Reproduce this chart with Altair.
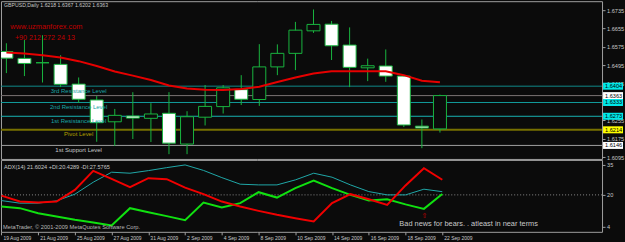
import altair as alt
import pandas as pd

# ---------------- data ----------------
dates = ["19 Aug 2009", "20 Aug 2009", "21 Aug 2009", "24 Aug 2009", "25 Aug 2009",
         "26 Aug 2009", "27 Aug 2009", "28 Aug 2009", "31 Aug 2009", "1 Sep 2009",
         "2 Sep 2009", "3 Sep 2009", "4 Sep 2009", "7 Sep 2009", "8 Sep 2009",
         "9 Sep 2009", "10 Sep 2009", "11 Sep 2009", "14 Sep 2009", "15 Sep 2009",
         "16 Sep 2009", "17 Sep 2009", "18 Sep 2009", "21 Sep 2009", "22 Sep 2009"]
opens = [1.6555, 1.6525, 1.6506, 1.6499, 1.6413, 1.6344, 1.6249, 1.6274, 1.6264, 1.6286,
         1.6152, 1.6269, 1.6315, 1.6389, 1.6346, 1.6488, 1.6547, 1.6645, 1.6674, 1.6583,
         1.6484, 1.6492, 1.6448, 1.6230, 1.6218]
highs = [1.6591, 1.6605, 1.6626, 1.6539, 1.6442, 1.6361, 1.6305, 1.6378, 1.6330, 1.6378,
         1.6295, 1.6409, 1.6409, 1.6452, 1.6587, 1.6586, 1.6684, 1.6738, 1.6688, 1.6660,
         1.6524, 1.6564, 1.6450, 1.6259, 1.6367]
lows = [1.6461, 1.6448, 1.6420, 1.6400, 1.6331, 1.6162, 1.6144, 1.6174, 1.6161, 1.6108,
        1.6108, 1.6233, 1.6285, 1.6322, 1.6318, 1.6452, 1.6474, 1.6636, 1.6518, 1.6400,
        1.6426, 1.6423, 1.6226, 1.6134, 1.6202]
closes = [1.6526, 1.6503, 1.6506, 1.6412, 1.6347, 1.6245, 1.6277, 1.6265, 1.6283, 1.6156,
          1.6271, 1.6316, 1.6397, 1.6347, 1.6488, 1.6547, 1.6648, 1.6673, 1.6580, 1.6486,
          1.6493, 1.6448, 1.6235, 1.6222, 1.6363]
ma_values = [1.6551, 1.6546, 1.6539, 1.6529, 1.6513, 1.6492, 1.6468, 1.6450, 1.6431, 1.6407,
             1.6394, 1.6389, 1.6387, 1.6392, 1.6402, 1.6422, 1.6442, 1.6459, 1.6469, 1.6469,
             1.6469, 1.6469, 1.6452, 1.6428, 1.6421]
adx_main = [17.15, 15.85, 15.85, 17.0, 20.35, 26.35, 31.35, 30.85, 32.15, 33.65,
            35.0, 32.25, 28.65, 25.35, 25.0, 25.0, 27.5, 30.85, 28.85, 25.0,
            21.65, 20.0, 20.0, 22.85, 21.6024]
plus_di = [14.15, 13.35, 10.85, 9.15, 7.5, 6.15, 4.65, 13.35, 11.35, 9.35,
           7.35, 16.15, 13.65, 15.85, 21.35, 18.65, 23.35, 27.15, 23.35, 20.0,
           17.15, 17.85, 15.25, 13.0, 20.4289]
minus_di = [19.65, 16.65, 16.15, 16.65, 22.5, 32.0, 28.0, 23.85, 28.35, 27.85,
            23.65, 20.35, 16.65, 14.15, 12.0, 10.0, 8.35, 6.65, 15.85, 20.35,
            17.85, 15.0, 24.75, 33.35, 27.5765]

# 1.6335 is fully hidden under the price tags in the reference, so it is not listed
price_ticks = [1.6095, 1.6175, 1.6255, 1.6415, 1.6495, 1.6575, 1.6655, 1.6735]
adx_ticks = [4, 20, 35]
date_ticks = list(range(0, len(dates), 2))
adx_level = [20]

level_names = ["3rd Resistance Level", "2nd Resistance Level", "1st Resistance Level",
               "Pivot Level", "1st Support Level"]
level_prices = [1.6404, 1.6333, 1.6273, 1.6214, 1.6146]
level_anchor = [4, 4, 4, 4, 4]
bid_price = [closes[-1]]

symbol = "GBPUSD,Daily"
watermark = ["www.uzmanforex.com", "+90 212 272 24 13"]
copyright_text = "MetaTrader, \u00a9 2001-2009 MetaQuotes Software Corp."
comment_text = "Bad news for bears. . atleast in near terms"

# ---------------- style ----------------
BG = "#0b0b0b"
GREEN = "#19b53f"
FONT = "Liberation Sans"
LBL = "#c8c8c8"
level_colors = ["#108a8a", "#129c9c", "#18b4b4", "#777000", "#a0a0a0"]
level_widths = [1, 1, 1, 2, 1]
level_text_colors = ["#1aa5a5", "#1aa5a5", "#1aa5a5", "#b0a000", "#c8c8c8"]
tag_colors = ["#00e8e8", "#ffffff", "#00e8e8", "#00e8e8", "#ffff00", "#ffffff"]

n = len(dates)
idx = list(range(n))
candles = pd.DataFrame({"i": idx, "date": dates, "open": opens, "high": highs,
                        "low": lows, "close": closes, "ma": ma_values})
candles["lo"] = candles[["open", "close"]].min(axis=1)
candles["hi"] = candles[["open", "close"]].max(axis=1)
candles["fill"] = ["#ffffff" if c < o else BG for o, c in zip(opens, closes)]

levels = pd.DataFrame({"name": level_names, "price": level_prices, "anchor": level_anchor,
                       "color": level_colors, "w": level_widths, "tcolor": level_text_colors})
tag_prices = [level_prices[0], bid_price[0]] + level_prices[1:]
tags = pd.DataFrame({"price": tag_prices, "fill": tag_colors,
                     "label": [f"{p:.4f}" for p in tag_prices]})

xs = alt.Scale(domain=[-0.022, 32.696], nice=False, zero=False)
ys = alt.Scale(domain=[1.60872, 1.67741], nice=False, zero=False)
adx_scale = alt.Scale(domain=[1.5, 37.5], nice=False, zero=False)

W, H1, H2 = 602, 158, 72

price_axis = alt.Axis(orient="right", values=price_ticks, format=".4f", title=None,
                      labelFlush=False, labelOverlap=False)
adx_axis = alt.Axis(orient="right", values=adx_ticks, format="d", title=None,
                    labelFlush=False, labelOverlap=False)
label_expr = "[" + ",".join("'" + d + "'" for d in dates) + "][datum.value]"
date_axis = alt.Axis(values=date_ticks, labelExpr=label_expr, title=None, labelAlign="left",
                     labelBaseline="top", labelFlush=False, labelOverlap=False,
                     labelOffset=1.5, labelPadding=0.8, labelFontSize=5.0)


def PY(field):
    return alt.Y(field, scale=ys, axis=price_axis)


def AY(field):
    return alt.Y(field, scale=adx_scale, axis=adx_axis)


Xn = alt.X("i:Q", scale=xs, axis=None)
Xd = alt.X("i:Q", scale=xs, axis=date_axis)

# ---------------- main panel ----------------
base = alt.Chart(candles)
level_rules = alt.Chart(levels).mark_rule(clip=True).encode(
    y=PY("price:Q"),
    color=alt.Color("color:N", scale=None),
    strokeWidth=alt.StrokeWidth("w:Q", scale=None))
bid_rule = alt.Chart(pd.DataFrame({"price": bid_price})).mark_rule(
    color="#7b7373", strokeWidth=1, clip=True).encode(y=PY("price:Q"))
wicks = base.mark_rule(color=GREEN, strokeWidth=1, clip=True).encode(
    x=Xn, y=PY("low:Q"), y2="high:Q")
bodies = base.mark_bar(size=13, stroke=GREEN, strokeWidth=1, clip=True).encode(
    x=Xn, y=PY("lo:Q"), y2="hi:Q", fill=alt.Fill("fill:N", scale=None))
ma_line = base.mark_line(color="#e60000", strokeWidth=2, clip=True).encode(
    x=Xn, y=PY("ma:Q"))
level_text = alt.Chart(levels).mark_text(align="center", baseline="top", dy=1.5,
                                         fontSize=6, font=FONT).encode(
    x=alt.X("anchor:Q", scale=xs, axis=None), y=PY("price:Q"),
    text="name:N", color=alt.Color("tcolor:N", scale=None))
tag_rect = alt.Chart(tags).mark_rect(yOffset=-3.5, y2Offset=3.5).encode(
    x=alt.value(603), x2=alt.value(623),
    y=PY("price:Q"), y2="price:Q",
    fill=alt.Fill("fill:N", scale=None))
tag_text = alt.Chart(tags).mark_text(align="left", baseline="middle", fontSize=5.6,
                                     font=FONT, color="#000000").encode(
    x=alt.value(605), y=PY("price:Q"), text="label:N")

title_str = f"{symbol}  {opens[-1]:.4f} {highs[-1]:.4f} {lows[-1]:.4f} {closes[-1]:.4f}"
title_txt = alt.Chart(pd.DataFrame({"t": [title_str]})).mark_text(
    align="left", baseline="middle", fontSize=5.2, font=FONT, color=LBL).encode(
    x=alt.value(3), y=alt.value(4), text="t:N")
wm1 = alt.Chart(pd.DataFrame({"t": [watermark[0]]})).mark_text(
    align="center", baseline="middle", fontSize=7.4, font=FONT, color="#c00000").encode(
    x=alt.value(45.5), y=alt.value(25.7), text="t:N")
wm2 = alt.Chart(pd.DataFrame({"t": [watermark[1]]})).mark_text(
    align="center", baseline="middle", fontSize=7.2, font=FONT, color="#c00000").encode(
    x=alt.value(44), y=alt.value(37.3), text="t:N")

main = alt.layer(level_rules, bid_rule, wicks, bodies, ma_line, level_text,
                 tag_rect, tag_text, title_txt, wm1, wm2).properties(width=W, height=H1)

# ---------------- ADX panel ----------------
adx_df = pd.DataFrame({"i": idx, "adx": adx_main, "pdi": plus_di, "mdi": minus_di})
adx_base = alt.Chart(adx_df)
lvl20 = alt.Chart(pd.DataFrame({"v": adx_level})).mark_rule(
    color="#8a8a8a", strokeDash=[1, 2], strokeWidth=1).encode(y=AY("v:Q"))
teal = adx_base.mark_line(color="#20a8a8", strokeWidth=1, clip=True).encode(
    x=Xd, y=AY("adx:Q"))
green = adx_base.mark_line(color="#10e010", strokeWidth=2, clip=True).encode(
    x=Xd, y=AY("pdi:Q"))
red = adx_base.mark_line(color="#f00000", strokeWidth=2, clip=True).encode(
    x=Xd, y=AY("mdi:Q"))

adx_title = f"ADX(14) {adx_main[-1]:.4f} +DI:{plus_di[-1]:.4f} -DI:{minus_di[-1]:.4f}"
adx_t = alt.Chart(pd.DataFrame({"t": [adx_title]})).mark_text(
    align="left", baseline="middle", fontSize=5.6, font=FONT, color=LBL).encode(
    x=alt.value(3), y=alt.value(6.7), text="t:N")
copy_t = alt.Chart(pd.DataFrame({"t": [copyright_text]})).mark_text(
    align="left", baseline="middle", fontSize=5.7, font=FONT, color="#b8b8b8").encode(
    x=alt.value(2), y=alt.value(66.7), text="t:N")
comment_t = alt.Chart(pd.DataFrame({"t": [comment_text]})).mark_text(
    align="left", baseline="middle", fontSize=7.4, font=FONT, color="#c8c8c8").encode(
    x=alt.value(399), y=alt.value(64.6), text="t:N")
arrow = alt.Chart(pd.DataFrame({"t": ["\u21e7"]})).mark_text(
    align="center", baseline="middle", fontSize=7, font="DejaVu Sans", color="#d00000").encode(
    x=alt.value(424), y=alt.value(56.3), text="t:N")

adx = alt.layer(lvl20, teal, green, red, adx_t, copy_t, comment_t, arrow).properties(
    width=W, height=H2)

chart = alt.vconcat(main, adx, spacing=1, bounds="flush").properties(
    padding=0, background=BG
).configure_view(
    stroke="#a0a0a0", strokeWidth=1, fill=BG
).configure_axis(
    labelFont=FONT, labelFontSize=5.6, labelColor=LBL, tickColor="#a0a0a0",
    tickSize=3, domain=False, grid=False, labelPadding=1.5
)

chart.save("out.html", embed_options={"renderer": "svg", "actions": False})
